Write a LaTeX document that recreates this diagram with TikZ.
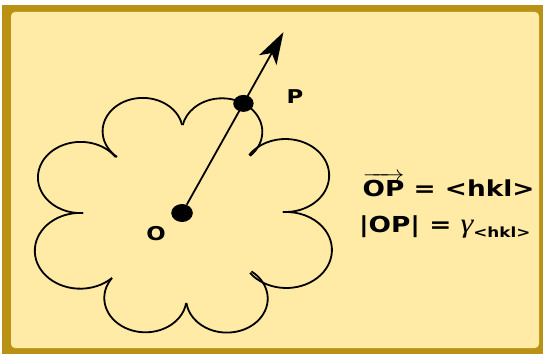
\documentclass[tikz,border=0pt]{standalone}
\usepackage{fontspec}
\setsansfont{DejaVu Sans}
\newfontfamily\greekfont{Liberation Serif}
\usetikzlibrary{arrows.meta, calc}
\definecolor{framegold}{RGB}{185,145,20}
\definecolor{paper}{RGB}{255,234,166}

\begin{document}
\begin{tikzpicture}[
    x=1pt, y=1pt, xscale=1.2,
    every node/.append style={transform shape},
    puff/.style={line width=1.8pt, black},
    dot/.style={circle, fill=black, inner sep=0pt, minimum size=#1},
    lbl/.style={font=\sffamily\bfseries\fontsize{19}{22}\selectfont, inner sep=0pt},
    eqn/.style={font=\sffamily\bfseries\fontsize{22}{26}\selectfont,
                anchor=base west, inner sep=0pt},
    vec/.style={-{Stealth[length=32pt, width=20pt, inset=8pt]}, line width=1.8pt},
]
\useasboundingbox (0,0) rectangle (452.5,354);
% frame
\fill[framegold] (1.7,0) rectangle (452.5,349);
\fill[paper, rounded corners=4pt] (9.2,6) rectangle (449.2,342);

% cloud: one arc per puff (centre x / centre y / radius / start / end)
\foreach \cx/\cy/\r/\s/\e in {118.9/222.7/33.4/10.9/230.2,
                              185.1/222.2/33.5/-46/168.5,
                              237.8/178.5/36.5/-93.1/145.9,
                              238.6/104/38/-142.8/94.2,
                              189.1/55.4/34/-172.6/53.1,
                              121.2/56/34.3/144.4/351.6,
                              66.9/103.2/37.9/86.5/314.2,
                              67.2/176.5/35.6/34.8/273.2}
  \draw[puff] (\cx,\cy) ++(\s:\r) arc[start angle=\s, end angle=\e, radius=\r];

\node[dot=18pt] (O) at (151.7,141) {};
\path (185.1,222.2) ++(58:33.5) node[dot=17pt] (P) {};
\coordinate (tip) at ($(O)!1.65!(P)$);
\draw[vec] (O) -- (tip);

\node[lbl] (Olbl) at (130,120) {O};
\node[lbl] (Plbl) at (245.8,257) {P};

\node[eqn] (vecOP) at (302,158) {$\overrightarrow{\hbox{OP}}$ = <hkl>};
\node[eqn] (lenOP) at (299,122)
   {|OP| = {\greekfont\mdseries\itshape\fontsize{27}{28}\selectfont γ}\raisebox{-5pt}{\fontsize{14}{16}\selectfont <hkl>}};
\end{tikzpicture}
\end{document}
